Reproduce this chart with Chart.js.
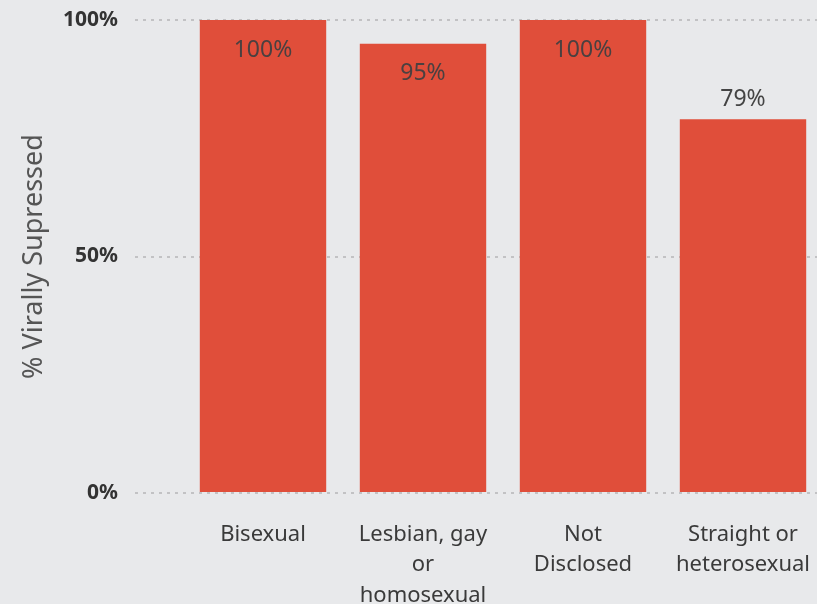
<!DOCTYPE html>
<html>
<head>
<meta charset="utf-8">
<script src="https://cdn.jsdelivr.net/npm/chart.js@4.4.1/dist/chart.umd.min.js"></script>
<style>
  html, body { margin: 0; padding: 0; background: #e8e9eb; overflow: hidden; }
  #wrap { position: relative; width: 823px; height: 604px; }
</style>
</head>
<body>
<div id="wrap"><canvas id="c"></canvas></div>
<script>
const categories = [
  ["Bisexual"],
  ["Lesbian, gay", "or", "homosexual"],
  ["Not", "Disclosed"],
  ["Straight or", "heterosexual"]
];
const values = [100, 95, 100, 79];
const yTicks = [0, 50, 100];
const yTitle = "% Virally Supressed";

const FONT = "'Noto Sans', 'Open Sans', 'DejaVu Sans', sans-serif";

const labelPlugin = {
  id: 'barLabels',
  afterDatasetsDraw(chart) {
    const ctx = chart.ctx;
    const meta = chart.getDatasetMeta(0);
    ctx.save();
    ctx.font = "23px " + FONT;
    ctx.textAlign = 'center';
    ctx.textBaseline = 'middle';
    meta.data.forEach((bar, i) => {
      const v = values[i];
      const txt = v + '%';
      let y;
      if (v >= 90) {
        y = bar.y + 30;
        ctx.fillStyle = '#4a4040';
      } else {
        y = bar.y - 20;
        ctx.fillStyle = '#444444';
      }
      ctx.fillText(txt, bar.x, y);
    });
    ctx.restore();
  }
};

new Chart(document.getElementById('c'), {
  type: 'bar',
  data: {
    labels: categories,
    datasets: [{
      data: values,
      backgroundColor: '#e04e3a',
      borderWidth: 0,
      barPercentage: 0.79,
      categoryPercentage: 1.0
    }]
  },
  options: {
    responsive: true,
    maintainAspectRatio: false,
    animation: false,
    layout: { padding: { top: 20, left: 0, right: 0, bottom: 0 } },
    plugins: { legend: { display: false }, tooltip: { enabled: false } },
    scales: {
      x: {
        grid: { display: false, drawTicks: false },
        border: { display: false },
        ticks: {
          color: '#3a3a3a',
          font: { family: FONT, size: 22, lineHeight: 1.37 },
          padding: 27,
          maxRotation: 0,
          autoSkip: false
        },
        afterFit(scale) { scale.height = 111; scale.paddingLeft = 0; scale.paddingRight = 0; }
      },
      y: {
        min: 0,
        max: 100,
        afterBuildTicks(scale) { scale.ticks = yTicks.map(v => ({ value: v })); },
        grid: {
          color: '#c2c2c4',
          lineWidth: 2,
          tickLength: 48,
          tickColor: '#c2c2c4',
          tickWidth: 2,
          tickBorderDash: [3, 5]
        },
        border: { display: false, dash: [3, 5] },
        ticks: {
          color: '#333333',
          font: { family: FONT, size: 21, weight: 'bold' },
          padding: 17,
          callback: v => v + '%'
        },
        title: {
          display: true,
          text: yTitle,
          color: '#555555',
          font: { family: FONT, size: 27 },
          padding: { top: 18, bottom: 0 }
        },
        afterFit(scale) { scale.width = 183; scale.paddingTop = 0; scale.paddingBottom = 0; }
      }
    }
  },
  plugins: [labelPlugin]
});
</script>
</body>
</html>
